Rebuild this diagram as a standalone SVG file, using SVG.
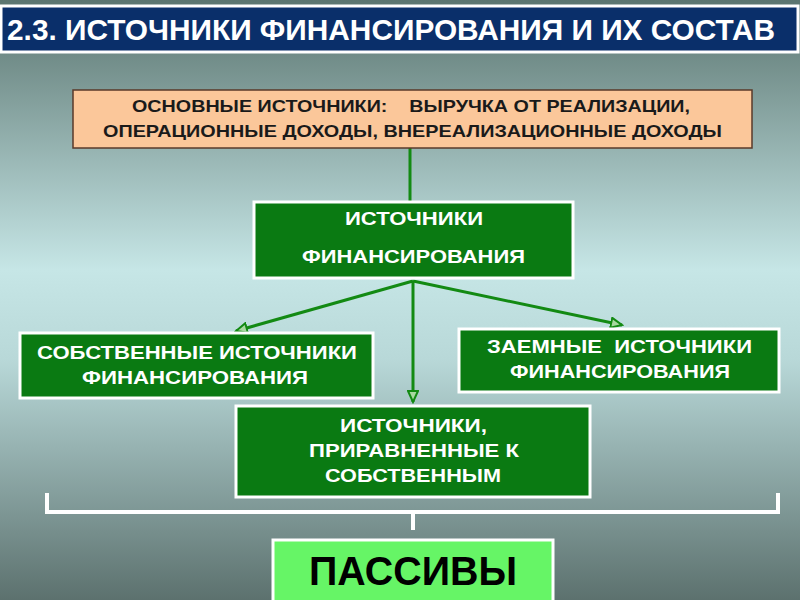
<svg xmlns="http://www.w3.org/2000/svg" width="800" height="600" viewBox="0 0 800 600">
<defs>
<linearGradient id="bg" x1="0" y1="0" x2="0" y2="1">
<stop offset="0" stop-color="#5b7570"/><stop offset="0.45" stop-color="#c6e6e6"/><stop offset="0.6" stop-color="#b8d8d8"/><stop offset="1" stop-color="#5c716e"/>
</linearGradient>
<marker id="ah" markerWidth="14" markerHeight="12" refX="12" refY="6" orient="auto" markerUnits="userSpaceOnUse">
<path d="M1,1 L12,6 L1,11 Z" fill="#a8d8a0" stroke="#138a13" stroke-width="2"/>
</marker>
<style>
.t{font-family:"Liberation Sans",Arial,sans-serif;font-weight:bold}
.g{fill:#0a7a12;stroke:#ffffff;stroke-width:3}
.w{fill:#ffffff;font-size:19px}
.c{stroke:#138a13;stroke-width:3;fill:none}
</style>
</defs>
<rect width="800" height="600" fill="url(#bg)"/>
<g id="title">
<rect x="1" y="6" width="797" height="46" fill="#0a2f6a" stroke="#ffffff" stroke-width="3"/>
<text x="7" y="40" class="t" font-size="30" fill="#fff" textLength="768" lengthAdjust="spacingAndGlyphs">2.3. ИСТОЧНИКИ ФИНАНСИРОВАНИЯ И ИХ СОСТАВ</text>
</g>
<g id="connectors">
<line x1="410" y1="148" x2="410" y2="202" class="c"/>
<line x1="413" y1="281" x2="236" y2="331" class="c" marker-end="url(#ah)"/>
<line x1="413" y1="281" x2="622" y2="325" class="c" marker-end="url(#ah)"/>
<line x1="413" y1="281" x2="413" y2="402" class="c" marker-end="url(#ah)"/>
<path d="M47,493 V512 H778 V493 M413,512 V530" stroke="#ffffff" stroke-width="4" fill="none"/>
</g>
<g id="main">
<rect x="73" y="90" width="679" height="58" fill="#fbc79a" stroke="#5a3a2a" stroke-width="1.5"/>
<text x="132" y="112" class="t" font-size="17" fill="#1a1a1a" textLength="558" lengthAdjust="spacingAndGlyphs" xml:space="preserve">ОСНОВНЫЕ ИСТОЧНИКИ:    ВЫРУЧКА ОТ РЕАЛИЗАЦИИ,</text>
<text x="103" y="137" class="t" font-size="17" fill="#1a1a1a" textLength="619" lengthAdjust="spacingAndGlyphs">ОПЕРАЦИОННЫЕ ДОХОДЫ, ВНЕРЕАЛИЗАЦИОННЫЕ ДОХОДЫ</text>
</g>
<g id="sources">
<rect x="254" y="202" width="319" height="76" class="g"/>
<text x="345" y="225" class="t w" textLength="138" lengthAdjust="spacingAndGlyphs">ИСТОЧНИКИ</text>
<text x="302" y="263" class="t w" textLength="223" lengthAdjust="spacingAndGlyphs">ФИНАНСИРОВАНИЯ</text>
</g>
<g id="own">
<rect x="20" y="333" width="353" height="65" class="g"/>
<text x="37" y="359" class="t w" textLength="320" lengthAdjust="spacingAndGlyphs">СОБСТВЕННЫЕ ИСТОЧНИКИ</text>
<text x="82" y="384" class="t w" textLength="226" lengthAdjust="spacingAndGlyphs">ФИНАНСИРОВАНИЯ</text>
</g>
<g id="borrowed">
<rect x="459" y="329" width="320" height="63" class="g"/>
<text x="487" y="353" class="t w" textLength="265" lengthAdjust="spacingAndGlyphs" xml:space="preserve">ЗАЕМНЫЕ  ИСТОЧНИКИ</text>
<text x="510" y="378" class="t w" textLength="220" lengthAdjust="spacingAndGlyphs">ФИНАНСИРОВАНИЯ</text>
</g>
<g id="equal">
<rect x="236" y="406" width="354" height="91" class="g"/>
<text x="340" y="432" class="t w" textLength="147" lengthAdjust="spacingAndGlyphs">ИСТОЧНИКИ,</text>
<text x="309" y="457" class="t w" textLength="210" lengthAdjust="spacingAndGlyphs">ПРИРАВНЕННЫЕ К</text>
<text x="325" y="482" class="t w" textLength="176" lengthAdjust="spacingAndGlyphs">СОБСТВЕННЫМ</text>
</g>
<g id="passives">
<rect x="273" y="540" width="280" height="62" fill="#66f566" stroke="#ffffff" stroke-width="3"/>
<text x="309" y="585" class="t" font-size="40" fill="#000" textLength="208" lengthAdjust="spacingAndGlyphs">ПАССИВЫ</text>
</g>
</svg>
